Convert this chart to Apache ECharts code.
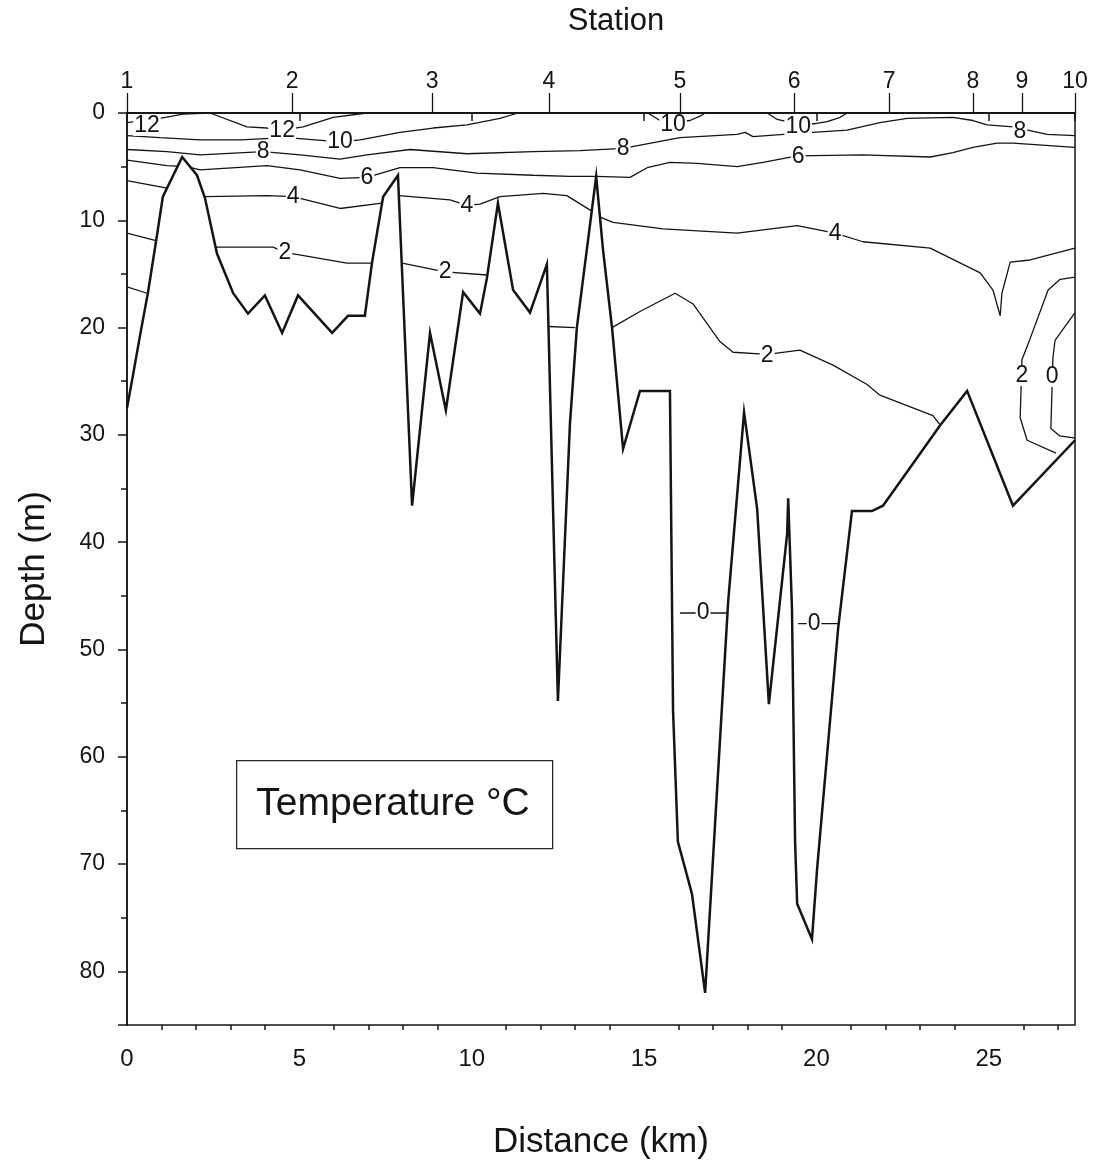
<!DOCTYPE html>
<html><head><meta charset="utf-8">
<script src="https://cdn.jsdelivr.net/npm/echarts@6/dist/echarts.min.js"></script>
<style>html,body{margin:0;padding:0;background:#fff}#c{width:1102px;height:1165px}</style>
</head><body><div id="c"></div>
<script>
// ---- data (distance km, depth m) ----
const stationKm = [0, 4.79, 8.85, 12.24, 16.04, 19.35, 22.11, 24.54, 25.96, 27.5];
const stationLabels = ['1','2','3','4','5','6','7','8','9','10'];
const minorKm = [1,2,3,4,6,7,8,9,11,12,13,14,16,17,18,19,21,22,23,24,26,27];
const minorDepth = [5,15,25,35,45,55,65,75];

const bathymetry = [[0,27.5],[0.17,24.5],[0.38,20.7],[0.61,16.7],[0.87,11.4],[1.04,7.8],[1.60,4.1],[2.03,5.8],[2.26,7.9],[2.61,13.1],[3.08,16.8],[3.51,18.7],[4.00,17.0],[4.50,20.5],[4.96,17.0],[5.95,20.5],[6.41,18.9],[6.90,18.9],[7.11,13.9],[7.43,7.8],[7.86,5.8],[8.27,36.6],[8.79,20.5],[9.25,27.7],[9.75,16.7],[10.24,18.7],[10.44,15.4],[10.76,8.4],[11.20,16.5],[11.69,18.6],[12.18,14.1],[12.50,54.8],[12.85,28.9],[13.05,20.0],[13.61,5.9],[13.81,12.8],[14.07,20.0],[14.39,31.3],[14.88,25.9],[15.75,25.9],[15.84,55.7],[15.98,67.9],[16.39,72.8],[16.77,82.0],[17.12,62.9],[17.44,45.5],[17.90,27.9],[18.28,36.9],[18.62,55.1],[19.15,39.2],[19.18,35.9],[19.29,46.2],[19.38,67.9],[19.44,73.7],[19.87,77.0],[20.02,70.4],[20.63,48.0],[21.03,37.1],[21.61,37.1],[21.93,36.6],[23.59,29.1],[24.37,25.9],[25.70,36.6],[27.5,30.5]];

const c12 = [[0,0.9],[0.96,0.5],[1.62,0.1],[2.41,0],[3.48,1.3],[4.06,1.4],[4.50,1.6],[5.11,1.3],[5.98,0.4],[6.96,0]];
const c10 = [[0,2.1],[0.96,2.3],[2.12,2.5],[3.28,2.5],[4.64,2.3],[6.18,2.7],[6.76,2.5],[7.92,1.8],[8.88,1.4],[9.86,1.1],[10.82,0.5],[11.34,0]];
const c10a = [[15.11,0],[15.46,0.7],[15.84,0.9],[16.33,0.7],[16.62,0.3],[16.77,0]];
const c10b = [[18.57,0],[18.86,0.6],[19.15,0.8],[19.52,1.0],[19.96,1.0],[20.31,0.8],[20.69,0.4],[20.89,0]];
const c8 = [[0,3.4],[1.16,3.6],[2.12,3.9],[3.95,3.6],[5.02,3.9],[6.18,4.3],[6.96,3.9],[8.21,3.4],[9.86,3.8],[11.78,3.6],[13.14,3.5],[14.39,3.3],[16.04,2.3],[17.70,2.0],[17.93,1.8],[18.16,2.2],[19.44,1.9],[20.89,1.6],[21.84,0.9],[22.63,0.5],[23.96,0.4],[24.54,0.7],[24.95,1.1],[25.70,1.3],[26.69,2.0],[27.5,2.1]];
const c6a = [[0,4.4],[1.16,4.9],[1.48,4.95]];
const c6b = [[1.86,5.1],[2.12,5.3],[4.06,4.9],[5.02,5.3],[6.18,6.1],[6.96,6.0],[7.92,5.1],[8.88,5.1],[10.15,5.6],[11.78,5.8],[12.85,5.9],[13.61,5.9],[14.59,6.0],[15.09,5.1],[15.75,4.6],[16.54,4.7],[17.70,5.0],[18.45,4.6],[19.44,4.0],[21.35,3.9],[23.30,4.1],[23.96,3.7],[24.54,3.2],[25.24,2.8],[25.70,2.8],[27.5,3.2]];
const c4a = [[0,6.3],[1.16,7.0]];
const c4b = [[2.26,7.8],[4.06,7.7],[4.82,7.8],[6.18,8.9],[7.40,8.4]];
const c4c = [[7.89,7.7],[9.37,8.1],[9.86,8.6],[10.24,8.5],[10.82,7.8],[12.07,7.5],[12.76,7.7],[13.46,9.1]];
const c4d = [[13.72,9.7],[14.10,10.2],[15.55,10.8],[17.70,11.2],[19.44,10.5],[20.54,11.2],[21.35,12.0],[23.30,12.6],[24.75,14.9],[25.12,16.5],[25.33,18.9],[25.38,16.8],[25.62,13.9],[26.20,13.7],[27.5,12.6]];
const c2a = [[0,11.2],[0.84,11.9]];
const c2b = [[2.58,12.5],[4.24,12.5],[4.58,13.0],[6.38,14.0],[7.11,14.0]];
const c2c = [[7.98,14.0],[9.23,14.8],[10.44,15.1]];
const c2d = [[12.21,19.9],[13.00,20.0]];
const c2e = [[14.07,20.0],[14.88,18.5],[15.90,16.8],[16.42,17.8],[17.20,21.3],[17.58,22.3],[18.57,22.5],[19.52,22.1],[20.48,23.5],[21.47,25.3],[21.84,26.3],[23.38,28.2],[23.59,29.1]];
const c2f = [[27.5,15.3],[27.07,15.5],[26.72,16.5],[26.19,21.1],[25.96,23.0],[25.91,28.4],[26.11,30.5],[26.95,31.7]];
const c0a = [[0,16.2],[0.58,16.8]];
const c0b = [[27.5,18.6],[26.92,21.2],[26.86,22.8],[26.80,29.4],[27.06,30.1],[27.5,30.3]];
const c0c = [[16.04,46.6],[17.41,46.6]];
const c0d = [[19.47,47.6],[20.63,47.6]];

const labelText = ['12','12','10','10','10','8','8','8','6','6','4','4','4','2','2','2','2','0','0','0'];
const labelX = [0.58,4.50,6.18,15.84,19.47,3.95,14.39,25.9,6.96,19.47,4.82,9.86,20.54,4.58,9.23,18.57,25.96,26.84,16.71,19.93];
const labelY = [1.2,1.6,2.7,1.1,1.3,3.6,3.3,1.7,6.0,4.1,7.8,8.6,11.2,13.0,14.8,22.6,24.5,24.6,46.6,47.6];

// ---- chart ----
const FONT = '"Liberation Sans", Arial, sans-serif';
const INK = '#141414';
const contours = [c12,c10,c10a,c10b,c8,c6a,c6b,c4a,c4b,c4c,c4d,c2a,c2b,c2c,c2d,c2e,c2f,c0a,c0b,c0c,c0d];

const series = contours.map(d => ({
  type: 'line', data: d, symbol: 'none', silent: true, z: 2,
  lineStyle: { color: INK, width: 1.3 }
}));
series.push({
  type: 'line', data: bathymetry, symbol: 'none', silent: true, z: 3,
  lineStyle: { color: INK, width: 2.5, join: 'miter' }
});
series.push({
  type: 'scatter', silent: true, z: 5, symbol: 'circle', symbolSize: 2,
  itemStyle: { color: 'rgba(255,255,255,0)', opacity: 1 },
  data: labelText.map((t, i) => ({ name: t, value: [labelX[i], labelY[i]] })),
  label: {
    show: true, position: 'inside', formatter: '{b}', opacity: 1,
    fontFamily: FONT, fontSize: 23, color: INK,
    backgroundColor: '#fff', padding: [0, 1], lineHeight: 20
  },
  labelLayout: { hideOverlap: false }
});

function nearestStation(v) {
  let best = 0;
  for (let i = 1; i < stationKm.length; i++) {
    if (Math.abs(stationKm[i] - v) < Math.abs(stationKm[best] - v)) best = i;
  }
  return stationLabels[best];
}

const axisLineStyle = { color: INK, width: 1.5 };

const option = {
  animation: false,
  backgroundColor: '#fff',
  grid: { left: 127, top: 113, width: 948, height: 912, containLabel: false, outerBoundsMode: 'none',
    show: true, borderColor: INK, borderWidth: 1.5, backgroundColor: 'transparent' },
  xAxis: [
    {
      type: 'value', position: 'bottom', min: 0, max: 27.5, interval: 5,
      name: 'Distance (km)', nameLocation: 'middle', nameGap: 100,
      nameTextStyle: { fontFamily: FONT, fontSize: 35, color: INK },
      axisLine: { show: true, lineStyle: axisLineStyle },
      axisTick: { show: true, length: 8, lineStyle: axisLineStyle },
      axisLabel: { fontFamily: FONT, fontSize: 24, color: INK, margin: 22,
        formatter: v => (Math.abs(v % 5) < 1e-9 ? String(v) : '') },
      splitLine: { show: false }
    },
    {
      type: 'value', position: 'top', min: 0, max: 27.5,
      name: 'Station', nameLocation: 'middle', nameGap: 76,
      nameTextStyle: { fontFamily: FONT, fontSize: 31, color: INK, padding: [0, 0, 0, 30] },
      axisLine: { show: true, lineStyle: axisLineStyle },
      axisTick: { show: true, length: 20, customValues: stationKm, lineStyle: { color: INK, width: 1.3 } },
      axisLabel: { show: true, customValues: stationKm, fontFamily: FONT, fontSize: 23, color: INK, margin: 20,
        formatter: v => nearestStation(v) },
      splitLine: { show: false }
    },
    {
      type: 'value', position: 'bottom', min: 0, max: 27.5,
      axisLine: { show: false },
      axisTick: { show: true, length: 5, customValues: minorKm, lineStyle: axisLineStyle },
      axisLabel: { show: false },
      splitLine: { show: false }
    }
  ],
  yAxis: [
    {
      type: 'value', inverse: true, min: 0, max: 85, interval: 10, position: 'left',
      name: 'Depth (m)', nameLocation: 'middle', nameGap: 75, nameRotate: 90,
      nameTextStyle: { fontFamily: FONT, fontSize: 35, color: INK },
      axisLine: { show: true, lineStyle: axisLineStyle },
      axisTick: { show: true, length: 9, lineStyle: axisLineStyle },
      axisLabel: { fontFamily: FONT, fontSize: 23, color: INK, margin: 22,
        formatter: v => (Math.abs(v % 10) < 1e-9 ? String(v) : '') },
      splitLine: { show: false }
    },
    {
      type: 'value', inverse: true, min: 0, max: 85, position: 'left',
      axisLine: { show: false },
      axisTick: { show: true, length: 6, customValues: minorDepth, lineStyle: axisLineStyle },
      axisLabel: { show: false },
      splitLine: { show: false }
    }
  ],
  graphic: [
    { type: 'rect', left: 236, top: 760, z: 10,
      shape: { width: 316, height: 88 },
      style: { fill: '#fff', stroke: '#2a2a2a', lineWidth: 1.3 } },
    { type: 'text', x: 393, y: 804, z: 11,
      style: { text: 'Temperature °C', font: '39px "Liberation Sans", Arial, sans-serif',
        fill: INK, align: 'center', verticalAlign: 'middle', textAlign: 'center', textVerticalAlign: 'middle' } }
  ],
  series: series
};

const chart = echarts.init(document.getElementById('c'), null, { renderer: 'canvas' });
chart.setOption(option);
</script>
</body></html>
